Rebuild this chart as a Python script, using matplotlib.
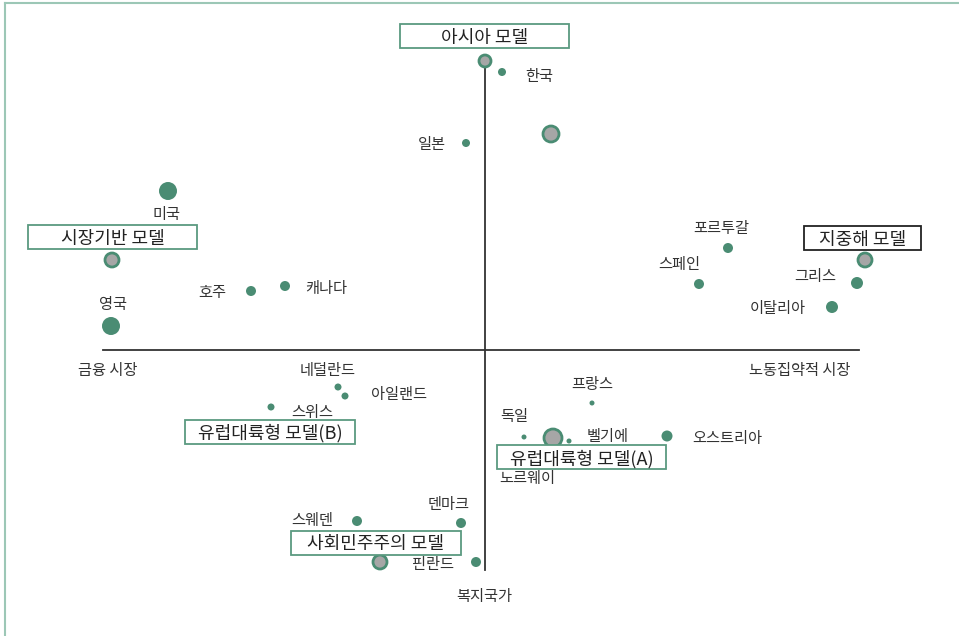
import matplotlib
matplotlib.use('Agg')
from matplotlib import pyplot as plt
from matplotlib.patches import Rectangle
from matplotlib.lines import Line2D

plt.rcParams['font.family'] = ['Noto Sans CJK KR', 'DejaVu Sans']

# countries: name, dot position, dot radius (px), label position
names = ['한국', '일본', '미국', '호주', '캐나다', '영국', '포르투갈', '스페인', '그리스', '이탈리아',
         '네덜란드', '아일랜드', '스위스', '프랑스', '독일', '벨기에', '오스트리아', '노르웨이',
         '덴마크', '스웨덴', '핀란드']
cx = [1.7, -1.9, -31.7, -23.4, -20.0, -37.4, 24.3, 21.4, 37.2, 34.7,
      -14.7, -14.0, -21.4, 10.7, 3.9, 8.4, 18.2, 4.2, -2.4, -12.8, -0.9]
cy = [27.8, 20.7, 15.9, 5.9, 6.4, 2.4, 10.2, 6.6, 6.7, 4.3,
      -3.7, -4.6, -5.7, -5.3, -8.7, -9.1, -8.6, -12.6, -17.3, -17.1, -21.2]
crad = [4, 4, 9, 5, 5, 9, 5, 5, 6, 6,
        3.5, 3.5, 3.5, 2.5, 2.5, 2.5, 5.5, 0, 5, 5, 5]
lx = [5.4, -5.3, -31.8, -27.3, -15.9, -37.2, 23.6, 19.4, 33.0, 29.3,
      -15.7, -8.6, -17.3, 10.7, 2.9, 12.3, 24.2, 4.2, -3.6, -17.3, -5.2]
ly = [27.6, 20.7, 13.7, 6.0, 6.3, 4.7, 12.4, 8.8, 7.5, 4.3,
      -1.9, -4.2, -6.1, -3.2, -6.5, -8.5, -8.7, -12.6, -15.2, -16.9, -21.2]

# model centres (grey dots)
mx = [0.0, 6.6, -37.3, 38.0, 6.8, -10.5]
my = [28.9, 21.6, 9.0, 9.0, -8.8, -21.2]
mrad = [6, 8, 7, 7, 9, 7]

# model boxes
box_names = ['아시아 모델', '시장기반 모델', '지중해 모델', '유럽대륙형 모델(B)', '유럽대륙형 모델(A)', '사회민주주의 모델']
bx = [-0.05, -37.25, 37.75, -21.5, 9.65, -10.9]
by = [31.4, 11.3, 11.2, -8.15, -10.7, -19.25]
bw = [16.9, 16.9, 11.7, 17.0, 16.9, 17.0]
bedge = ['#5a9a80', '#5a9a80', '#222222', '#5a9a80', '#5a9a80', '#5a9a80']

# axis ends and labels
x_axis = (-38.2, 37.4)
y_axis = (-22.0, 28.9)
ax_labels = ['금융 시장', '노동집약적 시장', '복지국가']
ax_lx = [-37.7, 31.5, -0.1]
ax_ly = [-1.9, -1.9, -24.5]

green = '#4a8c73'
txt = '#333333'
dy = -0.2  # Noto sits a little high with va='center'

fig = plt.figure(figsize=(9.59, 6.36), dpi=100)
ax = fig.add_axes([0, 0, 1, 1])
ax.set_xlim(-48.5, 47.4)
ax.set_ylim(-28.6, 35.0)
ax.axis('off')

ax.plot([x_axis[0], x_axis[1]], [0, 0], color='#333333', lw=1.3, zorder=1)
ax.plot([0, 0], [y_axis[0], y_axis[1]], color='#333333', lw=1.3, zorder=1)

ax.scatter(cx, cy, s=[(1.44 * r) ** 2 for r in crad], color=green, linewidths=0, zorder=3)
ax.scatter(mx, my, s=[(1.44 * r) ** 2 for r in mrad], color='#a6a6a6', edgecolors=green,
           linewidths=2, zorder=3)

for i in range(len(names)):
    ax.text(lx[i], ly[i] + dy, names[i], fontsize=11, color=txt, ha='center', va='center', zorder=4)

for i in range(len(ax_labels)):
    ax.text(ax_lx[i], ax_ly[i] + dy, ax_labels[i], fontsize=11, color=txt, ha='center', va='center')

for i in range(len(box_names)):
    ax.add_patch(Rectangle((bx[i] - bw[i] / 2, by[i] - 1.2), bw[i], 2.4, facecolor='white',
                           edgecolor=bedge[i], lw=1.3, zorder=5))
    ax.text(bx[i], by[i] + dy, box_names[i], fontsize=13, color='#222222', ha='center', va='center', zorder=6)

# frame of the original figure
fig.add_artist(Line2D([5 / 959, 5 / 959], [0, 1 - 3 / 636], color='#9cc7b6', lw=1.5))
fig.add_artist(Line2D([5 / 959, 1], [1 - 3 / 636, 1 - 3 / 636], color='#9cc7b6', lw=1.5))

plt.savefig('out.png', dpi=100)
